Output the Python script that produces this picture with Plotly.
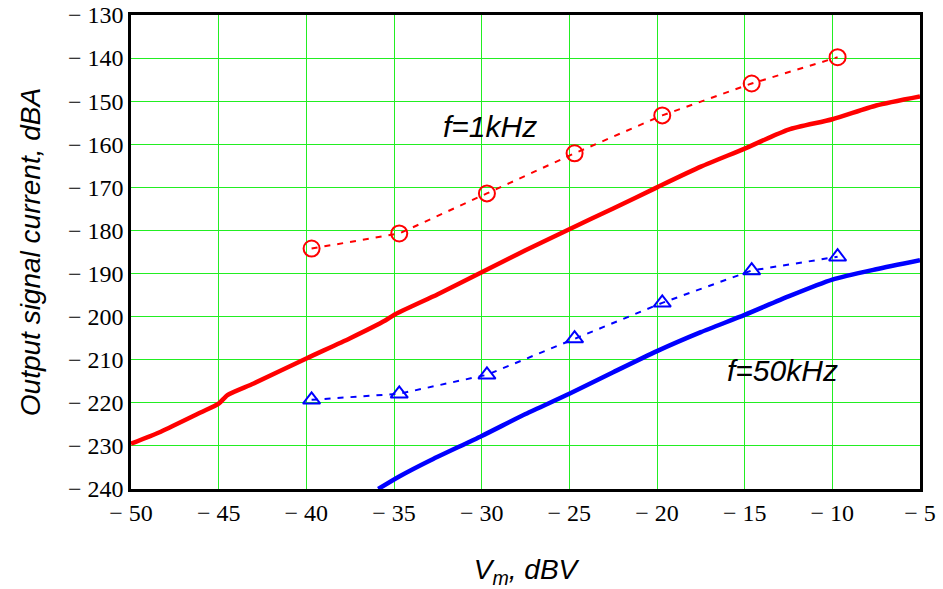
import plotly.graph_objects as go

# Measured points (markers, dashed)
x_meas = [-39.7, -34.7, -29.7, -24.7, -19.7, -14.6, -9.7]
y_meas_1k = [-184.2, -180.7, -171.4, -162.1, -153.3, -145.9, -139.8]
y_meas_50k = [-219.3, -217.9, -213.5, -205.1, -196.8, -189.3, -186.1]

# Calculated curves (solid)
x_calc_1k = [-50, -48.3, -46, -45, -44.5, -43, -40, -37.5, -35.5, -35, -32.5, -30, -27.5, -25,
             -22.5, -20, -17.5, -15, -12.5, -10, -7.5, -5]
y_calc_1k = [-229.5, -226.7, -222.2, -220.2, -218.2, -215.5, -209.7, -205.0, -200.9, -199.6,
             -194.8, -189.7, -184.6, -179.7, -174.9, -170.0, -165.2, -161.0, -156.6, -154.2,
             -151.0, -148.9]
x_calc_50k = [-35.9, -34.7, -33, -30, -27.5, -25, -22.5, -20, -17.5, -15, -12.5, -10, -7.5, -5]
y_calc_50k = [-240.0, -237.1, -233.5, -227.7, -222.6, -217.9, -212.9, -208.0, -203.6, -199.6,
              -195.3, -191.4, -189.0, -186.9]

x_ticks = [-50, -45, -40, -35, -30, -25, -20, -15, -10, -5]
y_ticks = [-240, -230, -220, -210, -200, -190, -180, -170, -160, -150, -140, -130]

def lab(v):
    return "\u2212 " + str(abs(v))

SERIF = "Liberation Serif, Times New Roman, Times, DejaVu Serif, serif"
SANS = "Liberation Sans, Arial, Helvetica, sans-serif"

fig = go.Figure()
fig.add_trace(go.Scatter(x=x_calc_1k, y=y_calc_1k, mode="lines",
                         line=dict(color="#ff0000", width=4.5, shape="spline", smoothing=0.6),
                         showlegend=False))
fig.add_trace(go.Scatter(x=x_calc_50k, y=y_calc_50k, mode="lines",
                         line=dict(color="#0000ff", width=4.5, shape="spline", smoothing=0.6),
                         showlegend=False))
fig.add_trace(go.Scatter(x=x_meas, y=y_meas_1k, mode="lines+markers",
                         line=dict(color="#ff0000", width=2, dash="6px,7px"),
                         marker=dict(symbol="circle-open", size=16, color="#ff0000",
                                     line=dict(width=2, color="#ff0000")),
                         showlegend=False))
fig.add_trace(go.Scatter(x=x_meas, y=y_meas_50k, mode="lines+markers",
                         line=dict(color="#0000ff", width=2, dash="6px,7px"),
                         marker=dict(symbol="triangle-up-open", size=15, color="#0000ff",
                                     line=dict(width=2, color="#0000ff")),
                         showlegend=False))

fig.add_annotation(x=-29.5, y=-155.9, text="f=1kHz", showarrow=False,
                   font=dict(family=SANS, size=30, color="black", style="italic"))
fig.add_annotation(x=-12.85, y=-212.6, text="f=50kHz", showarrow=False,
                   font=dict(family=SANS, size=30, color="black", style="italic"))

axis_common = dict(showline=True, linecolor="black", linewidth=2.5, mirror=True,
                   showgrid=True, gridcolor="#22ee22", gridwidth=1.2, zeroline=False,
                   ticks="", automargin=False,
                   tickfont=dict(family=SERIF, size=24, color="black"))

fig.update_xaxes(range=[-50, -5], tickvals=x_ticks, ticktext=[lab(v) for v in x_ticks],
                 title=dict(text="V<sub>m</sub>, dBV", standoff=38,
                            font=dict(family=SANS, size=28, color="black", style="italic")),
                 **axis_common)
fig.update_yaxes(range=[-240, -130], tickvals=y_ticks, ticktext=[lab(v) for v in y_ticks],
                 title=dict(text="Output signal current, dBA", standoff=20,
                            font=dict(family=SANS, size=28, color="black", style="italic")),
                 **axis_common)

fig.update_layout(width=943, height=589, margin=dict(l=131, r=23, t=15, b=100),
                  paper_bgcolor="white", plot_bgcolor="white",
                  font=dict(family=SERIF, color="black"))

fig.write_html("out.html")
